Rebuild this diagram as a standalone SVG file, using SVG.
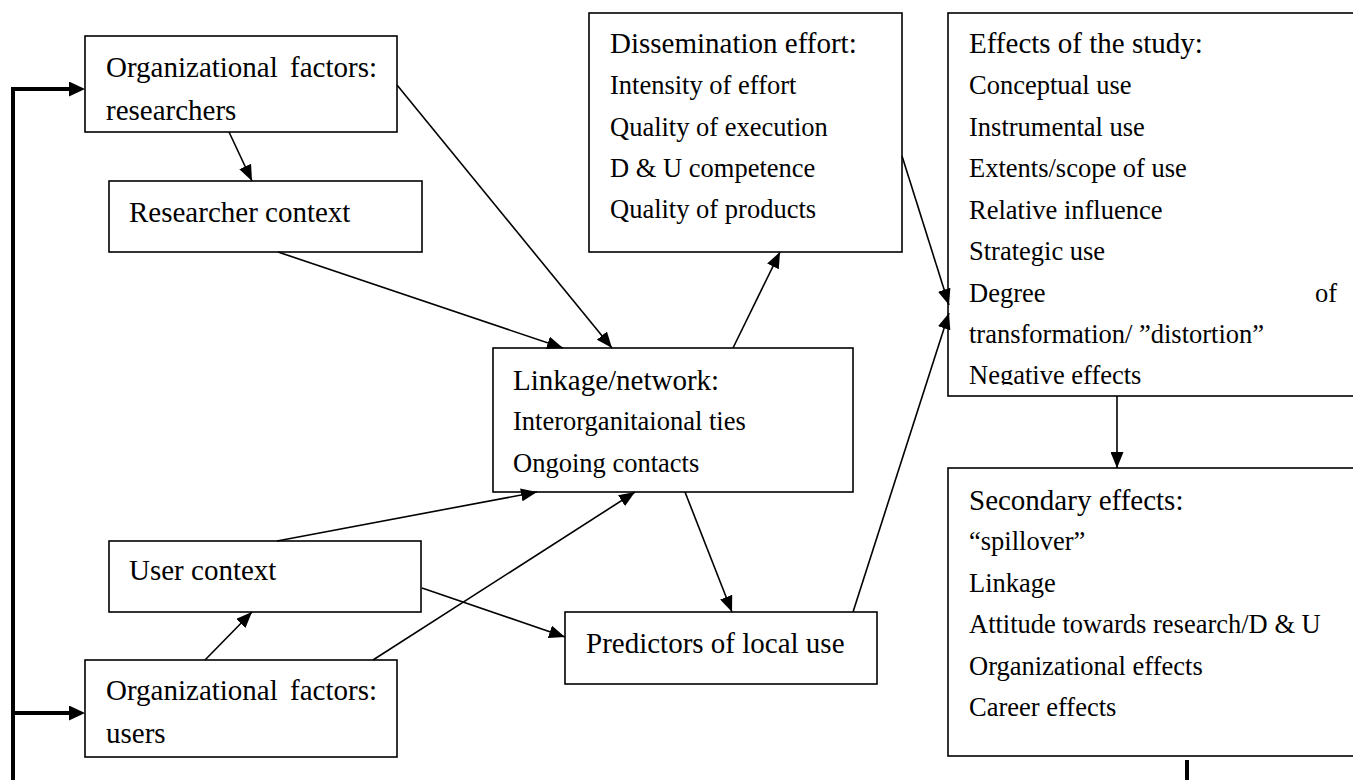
<svg xmlns="http://www.w3.org/2000/svg" width="1353" height="780" viewBox="0 0 1353 780">
<style>
.box{fill:#fff;stroke:#000;stroke-width:1.6}
.h{font-family:"Liberation Serif","Times New Roman",serif;font-size:29px;fill:#000}
.i{font-family:"Liberation Serif","Times New Roman",serif;font-size:26.5px;fill:#000}
.c{fill:none;stroke:#000;stroke-width:1.6}
.t{fill:none;stroke:#000;stroke-width:4}
</style>
<defs>
<marker id="a" viewBox="0 0 16 13" refX="16" refY="6.5" markerWidth="16" markerHeight="13" markerUnits="userSpaceOnUse" orient="auto"><path d="M0,0 L16,6.5 L0,13 z" fill="#000"/></marker>
<marker id="b" viewBox="0 0 16 15" refX="0" refY="7.5" markerWidth="16" markerHeight="15" markerUnits="userSpaceOnUse" orient="auto"><path d="M0,0 L16,7.5 L0,15 z" fill="#000"/></marker>
<clipPath id="clipE"><rect x="948" y="13" width="420" height="372"/></clipPath>
</defs>
<rect width="1353" height="780" fill="#fff"/>
<g id="orgR"><rect class="box" x="85" y="36" width="312" height="96"/><text class="h" x="106" y="77">Organizational</text><text class="h" x="377" y="77" text-anchor="end">factors:</text><text class="h" x="106" y="120">researchers</text></g>
<g id="resCtx"><rect class="box" x="109" y="181" width="313" height="71"/><text class="h" x="129" y="222">Researcher context</text></g>
<g id="userCtx"><rect class="box" x="109" y="541" width="312" height="71"/><text class="h" x="129" y="580">User context</text></g>
<g id="orgU"><rect class="box" x="85" y="660" width="312" height="97"/><text class="h" x="106" y="700">Organizational</text><text class="h" x="377" y="700" text-anchor="end">factors:</text><text class="h" x="106" y="743">users</text></g>
<g id="dissem"><rect class="box" x="589" y="13" width="313" height="239"/><text class="h" x="610" y="53">Dissemination effort:</text><text class="i" x="610" y="94">Intensity of effort</text><text class="i" x="610" y="136">Quality of execution</text><text class="i" x="610" y="177">D &amp; U competence</text><text class="i" x="610" y="218">Quality of products</text></g>
<g id="linkage"><rect class="box" x="493" y="348" width="360" height="144"/><text class="h" x="513" y="390">Linkage/network:</text><text class="i" x="513" y="430">Interorganitaional ties</text><text class="i" x="513" y="472">Ongoing contacts</text></g>
<g id="predictors"><rect class="box" x="565" y="612" width="312" height="72"/><text class="h" x="586" y="653">Predictors of local use</text></g>
<g id="effects"><rect class="box" x="948" y="13" width="420" height="383"/><g clip-path="url(#clipE)"><text class="h" x="969" y="53">Effects of the study:</text><text class="i" x="969" y="94">Conceptual use</text><text class="i" x="969" y="136">Instrumental use</text><text class="i" x="969" y="177">Extents/scope of use</text><text class="i" x="969" y="219">Relative influence</text><text class="i" x="969" y="260">Strategic use</text><text class="i" x="969" y="302">Degree</text><text class="i" x="1337" y="302" text-anchor="end">of</text><text class="i" x="969" y="343">transformation/ ”distortion”</text><text class="i" x="969" y="384">Negative effects</text></g></g>
<g id="secondary"><rect class="box" x="948" y="468" width="420" height="288"/><text class="h" x="969" y="510">Secondary effects:</text><text class="i" x="969" y="550">“spillover”</text><text class="i" x="969" y="592">Linkage</text><text class="i" x="969" y="633">Attitude towards research/D &amp; U</text><text class="i" x="969" y="675">Organizational effects</text><text class="i" x="969" y="716">Career effects</text></g>
<g id="connectors">
<line class="c" x1="229" y1="132" x2="252" y2="181" marker-end="url(#a)"/>
<line class="c" x1="397" y1="85" x2="612" y2="348" marker-end="url(#a)"/>
<line class="c" x1="278" y1="252" x2="563" y2="348" marker-end="url(#a)"/>
<line class="c" x1="733" y1="348" x2="780" y2="252" marker-end="url(#a)"/>
<line class="c" x1="902" y1="156" x2="949" y2="305" marker-end="url(#a)"/>
<line class="c" x1="853" y1="612" x2="949" y2="313" marker-end="url(#a)"/>
<line class="c" x1="277" y1="541" x2="537" y2="492" marker-end="url(#a)"/>
<line class="c" x1="373" y1="660" x2="635" y2="492" marker-end="url(#a)"/>
<line class="c" x1="205" y1="660" x2="252" y2="612" marker-end="url(#a)"/>
<line class="c" x1="422" y1="588" x2="565" y2="637" marker-end="url(#a)"/>
<line class="c" x1="685" y1="492" x2="732" y2="612" marker-end="url(#a)"/>
<line class="c" x1="1117" y1="396" x2="1117" y2="468" marker-end="url(#a)"/>
<path class="t" d="M13,782 L13,89 L69,89" marker-end="url(#b)"/>
<line class="t" x1="13" y1="713" x2="69" y2="713" marker-end="url(#b)"/>
<line class="t" x1="1187" y1="760" x2="1187" y2="782"/>
</g>
</svg>
